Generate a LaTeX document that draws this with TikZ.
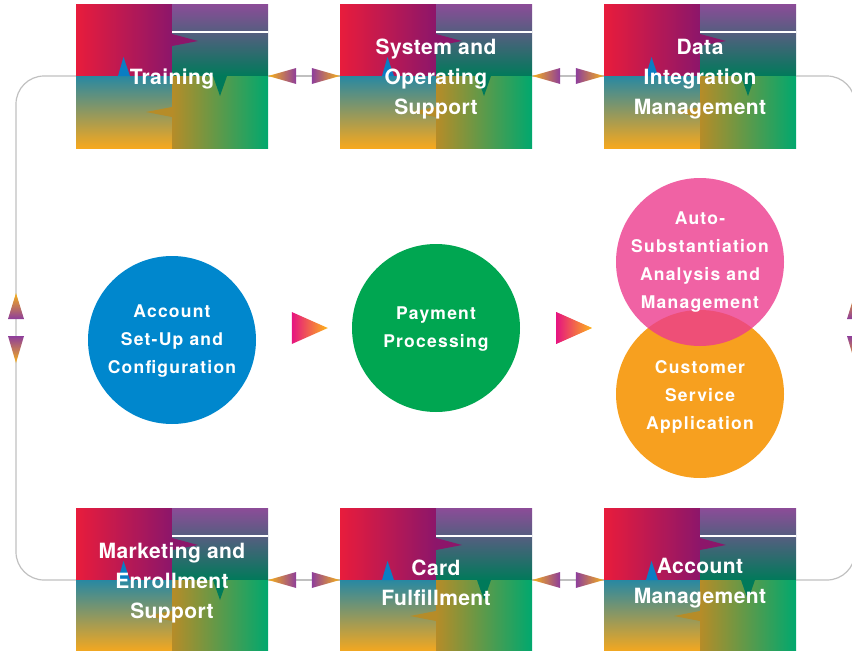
\documentclass[tikz,border=0pt]{standalone}
\usepackage{fontspec}
\setmainfont{TeX Gyre Heros}
\newfontfamily\tilefont[LetterSpace=2]{TeX Gyre Heros}
\newfontfamily\circfont[LetterSpace=7]{TeX Gyre Heros}
\usetikzlibrary{calc}

\definecolor{tRed}{RGB}{232,28,60}
\definecolor{tMag}{RGB}{140,22,106}
\definecolor{tPur}{RGB}{140,76,152}
\definecolor{tDkG}{RGB}{0,122,90}
\definecolor{tTeal}{RGB}{40,136,162}
\definecolor{tOra}{RGB}{246,168,30}
\definecolor{tGold}{RGB}{182,140,40}
\definecolor{tGrn}{RGB}{0,168,110}
\definecolor{tBlue}{RGB}{10,125,195}
\definecolor{aGold}{RGB}{247,178,23}
\definecolor{aPur}{RGB}{142,62,155}
\definecolor{mMag}{RGB}{230,20,128}
\definecolor{mOra}{RGB}{253,182,25}
\definecolor{cBlue}{RGB}{0,135,205}
\definecolor{cGreen}{RGB}{0,166,81}
\definecolor{cPink}{RGB}{236,59,141}
\definecolor{cOrange}{RGB}{247,160,31}
\definecolor{loopgrey}{RGB}{192,192,192}

\tikzset{
  tile/.style={minimum width=192pt, minimum height=144pt, inner sep=0pt},
  tiletext/.style={inner sep=0pt, text=white, align=center,
    font=\tilefont\bfseries\fontsize{21}{30}\selectfont},
  bubble/.style={circle, minimum size=168pt, inner sep=0pt},
  bubtext/.style={inner sep=0pt, text=white, align=center,
    font=\circfont\bfseries\fontsize{17.5}{28}\selectfont},
  loopline/.style={draw=loopgrey, line width=1.2pt},
  tileline/.style={white, line width=1.5pt},
}

\newcommand\tilebox[4]{%
  \begin{scope}[shift={(#2,#3)}]
    \shade[left color=tRed, right color=tMag] (-96,-72) rectangle (0,0);
    \shade[top color=tPur, bottom color=tDkG] (0,-72) rectangle (96,0);
    \shade[top color=tTeal, bottom color=tOra] (-96,0) rectangle (0,72);
    \shade[left color=tGold, right color=tGrn] (0,0) rectangle (96,72);
    \draw[tileline] (0,-44) -- (96,-44);
    \fill[tMag] (0,-42) -- (26,-35) -- (0,-30) -- cycle;
    \fill[tBlue] (-54,0) -- (-48.5,-19) -- (-42,0) -- cycle;
    \fill[tDkG] (41,0) -- (48,20) -- (55,0) -- cycle;
    \fill[tGold] (0,31) -- (-26,36) -- (0,41) -- cycle;
  \end{scope}
  \node[tile] (#1) at (#2,#3) {};
  \node[tiletext] (#1-text) at ($(#1)+(0,3)$) {#4};
}

\newcommand\bubblebox[6]{% name, x, y, fill options, text shift, text
  \node[bubble, #4] (#1) at (#2,#3) {};
  \node[bubtext] (#1-text) at ($(#1)+(0,#5)$) {#6};
}

\newcommand\hpair[2]{%
  \draw[loopline] (#1.east) -- (#2.west);
  \shade[left color=aGold, right color=aPur]
    (#1.east) -- ($(#1.east)+(28,-8)$) -- ($(#1.east)+(28,8)$) -- cycle;
  \shade[left color=aPur, right color=aGold]
    (#2.west) -- ($(#2.west)+(-28,-8)$) -- ($(#2.west)+(-28,8)$) -- cycle;
}

\newcommand\vpair[1]{%
  \shade[top color=aGold, bottom color=aPur]
    ($(#1)+(0,-35)$) -- ($(#1)+(8,-9)$) -- ($(#1)+(-8,-9)$) -- cycle;
  \shade[top color=aPur, bottom color=aGold]
    ($(#1)+(-8,8)$) -- ($(#1)+(8,8)$) -- ($(#1)+(0,35)$) -- cycle;
}

\begin{document}
\begin{tikzpicture}[x=1pt, y=-1pt]
  \useasboundingbox (0,0) rectangle (852,651);
  \clip (0,0) rectangle (852,651);

  % tiles
  \tilebox{t1}{172}{76}{Training}
  \tilebox{t2}{436}{76}{System and\\Operating\\Support}
  \tilebox{t3}{700}{76}{Data\\Integration\\Management}
  \tilebox{t4}{172}{580}{Marketing and\\Enrollment\\Support}
  \tilebox{t5}{436}{580}{Card\\Fulfillment}
  \tilebox{t6}{700}{580}{Account\\Management}

  % loop ends
  \coordinate (L) at (16,328);
  \coordinate (R) at (855,328);
  \draw[loopline, rounded corners=28pt] (t1.west) -| (L) |- (t4.west);
  \draw[loopline, rounded corners=28pt] (t3.east) -| (R) |- (t6.east);

  \hpair{t1}{t2}
  \hpair{t2}{t3}
  \hpair{t4}{t5}
  \hpair{t5}{t6}
  \vpair{L}
  \vpair{R}

  % circles
  \bubblebox{c1}{172}{340}{fill=cBlue}{1}{Account\\Set-Up and\\Configuration}
  \bubblebox{c2}{436}{328}{fill=cGreen}{1}{Payment\\Processing}
  \bubblebox{c4}{700}{394}{fill=cOrange}{3}{Customer\\Service\\Application}
  \bubblebox{c3}{700}{262}{fill=cPink, fill opacity=0.8}{0}{Auto-\\Substantiation\\Analysis and\\Management}

  \shade[left color=mMag, right color=mOra]
    ($(c2.west)+(-60,-16)$) -- ($(c2.west)+(-24,0)$) -- ($(c2.west)+(-60,16)$) -- cycle;
  \shade[left color=mMag, right color=mOra]
    ($(c2.east)+(36,-16)$) -- ($(c2.east)+(72,0)$) -- ($(c2.east)+(36,16)$) -- cycle;
\end{tikzpicture}
\end{document}
